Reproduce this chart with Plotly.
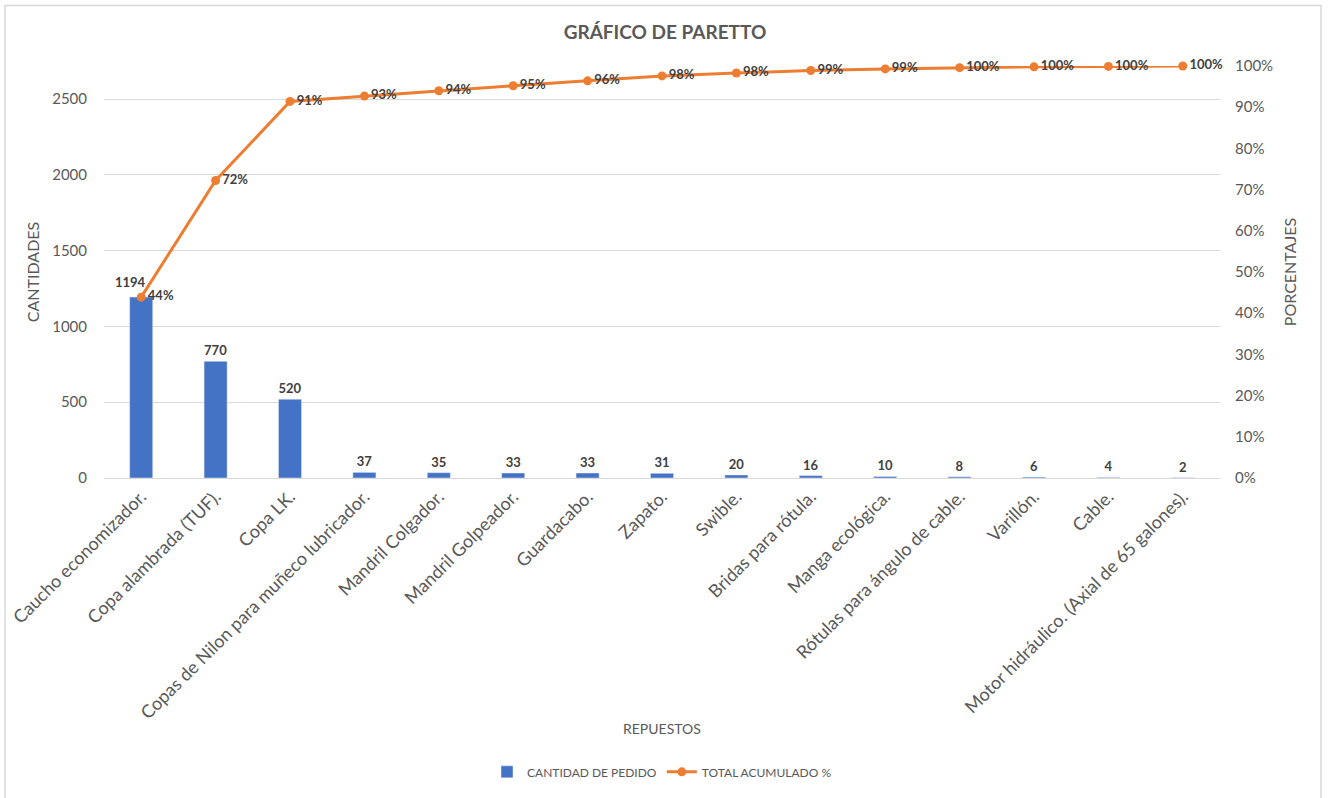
import plotly.graph_objects as go

categories = [
    "Caucho economizador.", "Copa alambrada (TUF).", "Copa LK.",
    "Copas de Nilon para muñeco lubricador.", "Mandril Colgador.",
    "Mandril Golpeador.", "Guardacabo.", "Zapato.", "Swible.",
    "Bridas para rótula.", "Manga ecológica.", "Rótulas para ángulo de cable.",
    "Varillón.", "Cable.", "Motor hidráulico. (Axial de 65 galones).",
]
cantidades = [1194, 770, 520, 37, 35, 33, 33, 31, 20, 16, 10, 8, 6, 4, 2]
acumulado_pct = [0.439, 0.722, 0.914, 0.927, 0.940, 0.952, 0.964, 0.976,
                 0.983, 0.989, 0.993, 0.996, 0.998, 0.999, 1.000]
left_ticks = [0, 500, 1000, 1500, 2000, 2500]
right_ticks = [0, 0.1, 0.2, 0.3, 0.4, 0.5, 0.6, 0.7, 0.8, 0.9, 1.0]

FONT = "Lato"
GRAY = "#595959"
BLUE = "#4472C4"
ORANGE = "#ED7D31"
LABEL = "#404040"

W, H = 1330, 798
ML, MR, MT, MB = 104, 110, 66, 317
plot_w = W - ML - MR
plot_h = H - MT - MB


def px_y(y):
    return (H - MB - y) / plot_h


def px_x(x):
    return (x - ML) / plot_w


# first bar label is shifted left in the reference (to avoid the 44% label)
bar_text = [""] + [str(v) for v in cantidades[1:]]

fig = go.Figure()
fig.add_trace(go.Bar(
    x=categories, y=cantidades, name="CANTIDAD DE PEDIDO",
    marker_color=BLUE, width=0.31,
    text=bar_text, textposition="outside",
    textfont=dict(family=FONT, size=13, color=LABEL, weight="bold"),
    constraintext="none",
    cliponaxis=False,
))
fig.add_trace(go.Scatter(
    x=categories, y=acumulado_pct, name="TOTAL ACUMULADO %", yaxis="y2",
    mode="lines+markers+text",
    line=dict(color=ORANGE, width=3), marker=dict(color=ORANGE, size=9),
    text=[f"{round(v*100):.0f}%" for v in acumulado_pct],
    textposition="middle right",
    textfont=dict(family=FONT, size=13, color=LABEL, weight="bold"),
    cliponaxis=False,
))

fig.update_layout(
    width=W, height=H,
    paper_bgcolor="white", plot_bgcolor="white",
    margin=dict(l=ML, r=MR, t=MT, b=MB),
    font=dict(family=FONT, color=GRAY),
    title=dict(text="<b>GRÁFICO DE PARETTO</b>", x=0.5, xanchor="center",
               y=1 - 32 / H, yanchor="middle",
               font=dict(family=FONT, size=19, color=GRAY)),
    bargap=0.69,
    showlegend=True,
    legend=dict(orientation="h", x=0.5, xanchor="center", y=px_y(777),
                yanchor="middle", font=dict(family=FONT, size=12, color=GRAY)),
    xaxis=dict(
        range=[-0.5, len(categories) - 0.5],
        tickangle=-45, tickfont=dict(family=FONT, size=18, color=GRAY),
        showline=True, linecolor="#D9D9D9", linewidth=1,
        showgrid=False, ticks="", automargin=False,
    ),
    yaxis=dict(
        range=[0, 2719], tickvals=left_ticks,
        tickfont=dict(family=FONT, size=15, color=GRAY),
        ticklabelstandoff=16,
        showgrid=True, gridcolor="#D9D9D9", gridwidth=1, zeroline=False,
        showline=False, ticks="", automargin=False,
        title=dict(text="CANTIDADES", font=dict(family=FONT, size=16, color=GRAY),
                   standoff=8),
    ),
    yaxis2=dict(
        range=[0, 1], tickvals=right_ticks, tickformat=".0%",
        overlaying="y", side="right",
        tickfont=dict(family=FONT, size=15, color=GRAY),
        ticklabelstandoff=14,
        showgrid=False, zeroline=False, showline=False, ticks="",
        automargin=False,
        title=dict(text="PORCENTAJES", font=dict(family=FONT, size=16, color=GRAY),
                   standoff=12),
    ),
    annotations=[
        dict(text="REPUESTOS", x=0.5, xref="paper", y=px_y(733), yref="paper",
             yanchor="middle", xanchor="center",
             showarrow=False, font=dict(family=FONT, size=14, color=GRAY)),
        dict(text=str(cantidades[0]), x=categories[0], xref="x",
             y=cantidades[0], yref="y", yanchor="bottom", xanchor="center",
             xshift=-11, yshift=5, showarrow=False,
             font=dict(family=FONT, size=13, color=LABEL, weight="bold")),
    ],
    shapes=[dict(type="rect", xref="paper", yref="paper",
                 x0=px_x(5), x1=px_x(1321), y0=px_y(805), y1=px_y(5),
                 line=dict(color="#D9D9D9", width=1.5))],
)

fig.write_html("out.html")
